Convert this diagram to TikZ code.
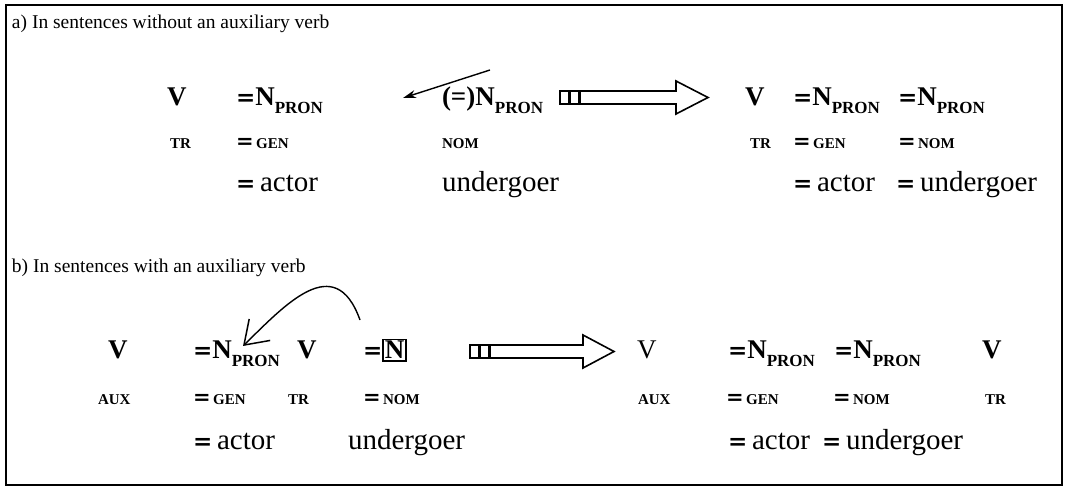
\documentclass[tikz,border=0pt]{standalone}
\usepackage{fontspec}
\setmainfont{Liberation Serif}
\newfontfamily\myeqfont{DejaVu Serif}
\usetikzlibrary{arrows.meta}
\newcommand\myprn{\raisebox{-8pt}{\fontsize{17}{18}\selectfont\bfseries PRON}}
\newcommand\myeq[1]{{\myeqfont\fontsize{#1}{#1}\selectfont\bfseries =}}
\begin{document}
\begin{tikzpicture}[x=1pt,y=-1pt,
  lbl/.style={anchor=base west,inner sep=0pt,outer sep=0pt},
  ttl/.style={lbl,font=\fontsize{19.5}{22}\selectfont},
  big/.style={lbl,font=\fontsize{27}{30}\selectfont\bfseries},
  bigr/.style={lbl,font=\fontsize{27}{30}\selectfont},
  sml/.style={lbl,font=\fontsize{15}{17}\selectfont\bfseries},
  wrd/.style={lbl,font=\fontsize{29}{32}\selectfont},
  hollow/.style={draw,line width=1.6pt,fill=white,line join=miter},
  conn/.style={line width=1.4pt},
]
\useasboundingbox (0,0) rectangle (1080,497);
\draw[line width=1.6pt] (6,5) rectangle (1062,485);

% ---- section a
\node[ttl] (ta) at (12,29) {a) In sentences without an auxiliary verb};
\node[big] (aV) at (167,106) {V};
\node[big] (aN1) at (236,106) {\myeq{23}N\myprn};
\node[big] (aN2) at (442,106) {(=)N\myprn};
\node[big] (aV2) at (745,106) {V};
\node[big] (aN3) at (793,106) {\myeq{23}N\myprn};
\node[big] (aN4) at (898,106) {\myeq{23}N\myprn};
\node[sml] (aTR) at (170,149) {TR};
\node[sml] (aG) at (236,149) {\myeq{21}\,GEN};
\node[sml] (aNom) at (442,149) {NOM};
\node[sml] (aTR2) at (750,149) {TR};
\node[sml] (aG2) at (793,149) {\myeq{21}\,GEN};
\node[sml] (aNom2) at (898,149) {\myeq{21}\,NOM};
\node[wrd] (aAct) at (236,192) {\myeq{23}\,actor};
\node[wrd] (aUnd) at (442,192) {undergoer};
\node[wrd] (aAct2) at (793,192) {\myeq{23}\,actor};
\node[wrd] (aUnd2) at (896,192) {\myeq{23}\,undergoer};
\coordinate (aTail) at (490,70);
\coordinate (aTip) at (403,98);
\draw[conn,-{Stealth[length=13pt,width=8pt]}] (aTail) -- (aTip);
% hollow arrow a
\draw[hollow] (560,91) rectangle (569,104);
\draw[hollow] (570,91) rectangle (579,104);
\draw[hollow] (580,91) -- (676,91) -- (676,81) -- (708,97.5) -- (676,114) -- (676,104) -- (580,104) -- cycle;

% ---- section b
\node[ttl] (tb) at (12,273) {b) In sentences with an auxiliary verb};
\node[big] (bV) at (108,359) {V};
\node[big] (bN1) at (193,359) {\myeq{23}N\myprn};
\node[big] (bV2) at (297,359) {V};
\node[big] (bN2) at (363,359) {\myeq{23}{\fboxsep=1pt\fboxrule=1.6pt\fbox{N}}};
\node[bigr] (bV3) at (637,359) {V};
\node[big] (bN3) at (728,359) {\myeq{23}N\myprn};
\node[big] (bN4) at (834,359) {\myeq{23}N\myprn};
\node[big] (bV4) at (982,359) {V};
\node[sml] (bAux) at (98,404) {AUX};
\node[sml] (bG) at (193,404) {\myeq{21}\,GEN};
\node[sml] (bTR) at (288,404) {TR};
\node[sml] (bNom) at (363,404) {\myeq{21}\,NOM};
\node[sml] (bAux2) at (638,404) {AUX};
\node[sml] (bG2) at (726,404) {\myeq{21}\,GEN};
\node[sml] (bNom2) at (833,404) {\myeq{21}\,NOM};
\node[sml] (bTR2) at (985,404) {TR};
\node[wrd] (bAct) at (193,449) {\myeq{23}\,actor};
\node[wrd] (bUnd) at (348,449) {undergoer};
\node[wrd] (bAct2) at (728,449) {\myeq{23}\,actor};
\node[wrd] (bUnd2) at (822,449) {\myeq{23}\,undergoer};
\coordinate (bTail) at (360,320);
\coordinate (bTip) at (243,346);
\draw[conn,-{Straight Barb[length=22pt,width=30pt,line width=1.5pt]}] (bTail) .. controls (335,250) and (285,305) .. (bTip);
% hollow arrow b
\draw[hollow] (470,345) rectangle (479,358);
\draw[hollow] (480,345) rectangle (489,358);
\draw[hollow] (490,345) -- (583,345) -- (583,335) -- (614,351.5) -- (583,368) -- (583,358) -- (490,358) -- cycle;
\end{tikzpicture}
\end{document}
